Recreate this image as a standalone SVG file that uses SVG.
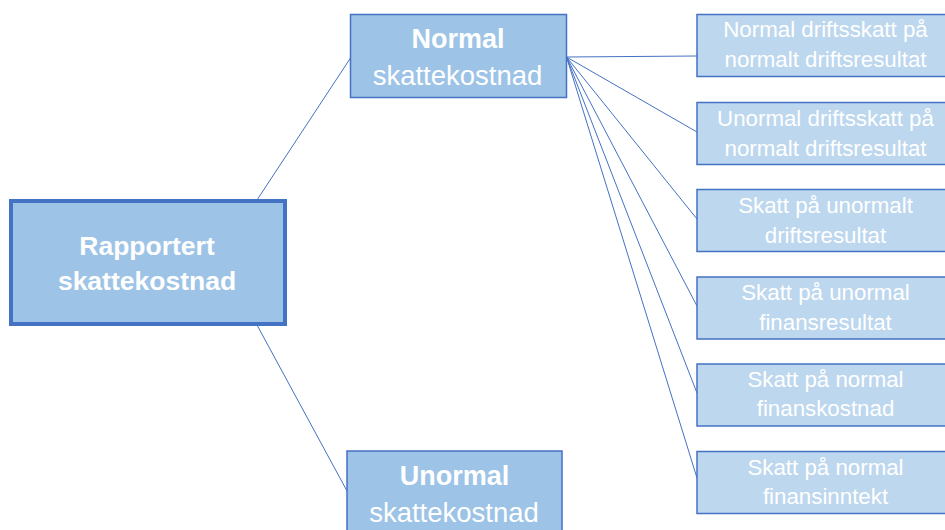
<svg xmlns="http://www.w3.org/2000/svg" width="945" height="530" viewBox="0 0 945 530">
  <style>
    .lbl { font-family: "Liberation Sans", Arial, sans-serif; fill: #ffffff; text-anchor: middle; }
    .b { font-weight: bold; }
    .mid { fill: #9dc3e6; stroke: #4472c4; stroke-width: 1.5; }
    .leaf { fill: #bdd7ee; stroke: #4472c4; stroke-width: 1.5; }
    .conn line { stroke: #4472c4; stroke-width: 1; }
  </style>
  <rect width="945" height="530" fill="#ffffff"/>

  <g id="connectors" class="conn">
    <line x1="257" y1="200" x2="350.5" y2="58"/>
    <line x1="257" y1="325" x2="347" y2="491"/>
    <line x1="566.5" y1="57" x2="697" y2="56"/>
    <line x1="566.5" y1="57" x2="697" y2="132"/>
    <line x1="566.5" y1="57" x2="697" y2="219"/>
    <line x1="566.5" y1="57" x2="697" y2="306"/>
    <line x1="566.5" y1="57" x2="697" y2="393"/>
    <line x1="566.5" y1="57" x2="697" y2="478"/>
  </g>

  <g id="root">
    <rect x="11" y="201" width="274" height="123" fill="#9dc3e6" stroke="#4472c4" stroke-width="4"/>
    <text class="lbl b" x="147" y="255" font-size="26.5">Rapportert</text>
    <text class="lbl b" x="147" y="290" font-size="26.5">skattekostnad</text>
  </g>

  <g id="normal">
    <rect class="mid" x="350.5" y="14.5" width="216" height="83"/>
    <text class="lbl b" x="458" y="48" font-size="27">Normal</text>
    <text class="lbl" x="457.5" y="85" font-size="27.5">skattekostnad</text>
  </g>

  <g id="unormal">
    <rect class="mid" x="347" y="451" width="215" height="90"/>
    <text class="lbl b" x="454.5" y="485" font-size="27">Unormal</text>
    <text class="lbl" x="454" y="521.5" font-size="27.5">skattekostnad</text>
  </g>

  <g id="leaf1">
    <rect class="leaf" x="697" y="14.5" width="258" height="62"/>
    <text class="lbl" x="825.5" y="37" font-size="22.3">Normal driftsskatt på</text>
    <text class="lbl" x="825.5" y="67" font-size="22.3">normalt driftsresultat</text>
  </g>

  <g id="leaf2">
    <rect class="leaf" x="697" y="102.5" width="258" height="62"/>
    <text class="lbl" x="825.5" y="126" font-size="22.3">Unormal driftsskatt på</text>
    <text class="lbl" x="825.5" y="156" font-size="22.3">normalt driftsresultat</text>
  </g>

  <g id="leaf3">
    <rect class="leaf" x="697" y="189.5" width="258" height="62"/>
    <text class="lbl" x="825.5" y="213" font-size="22.3">Skatt på unormalt</text>
    <text class="lbl" x="825.5" y="243" font-size="22.3">driftsresultat</text>
  </g>

  <g id="leaf4">
    <rect class="leaf" x="697" y="277" width="258" height="62"/>
    <text class="lbl" x="825.5" y="300" font-size="22.3">Skatt på unormal</text>
    <text class="lbl" x="825.5" y="330" font-size="22.3">finansresultat</text>
  </g>

  <g id="leaf5">
    <rect class="leaf" x="697" y="364" width="258" height="62"/>
    <text class="lbl" x="825.5" y="386.5" font-size="22.3">Skatt på normal</text>
    <text class="lbl" x="825.5" y="416" font-size="22.3">finanskostnad</text>
  </g>

  <g id="leaf6">
    <rect class="leaf" x="697" y="451.5" width="258" height="62"/>
    <text class="lbl" x="825.5" y="475" font-size="22.3">Skatt på normal</text>
    <text class="lbl" x="825.5" y="504" font-size="22.3">finansinntekt</text>
  </g>
</svg>
